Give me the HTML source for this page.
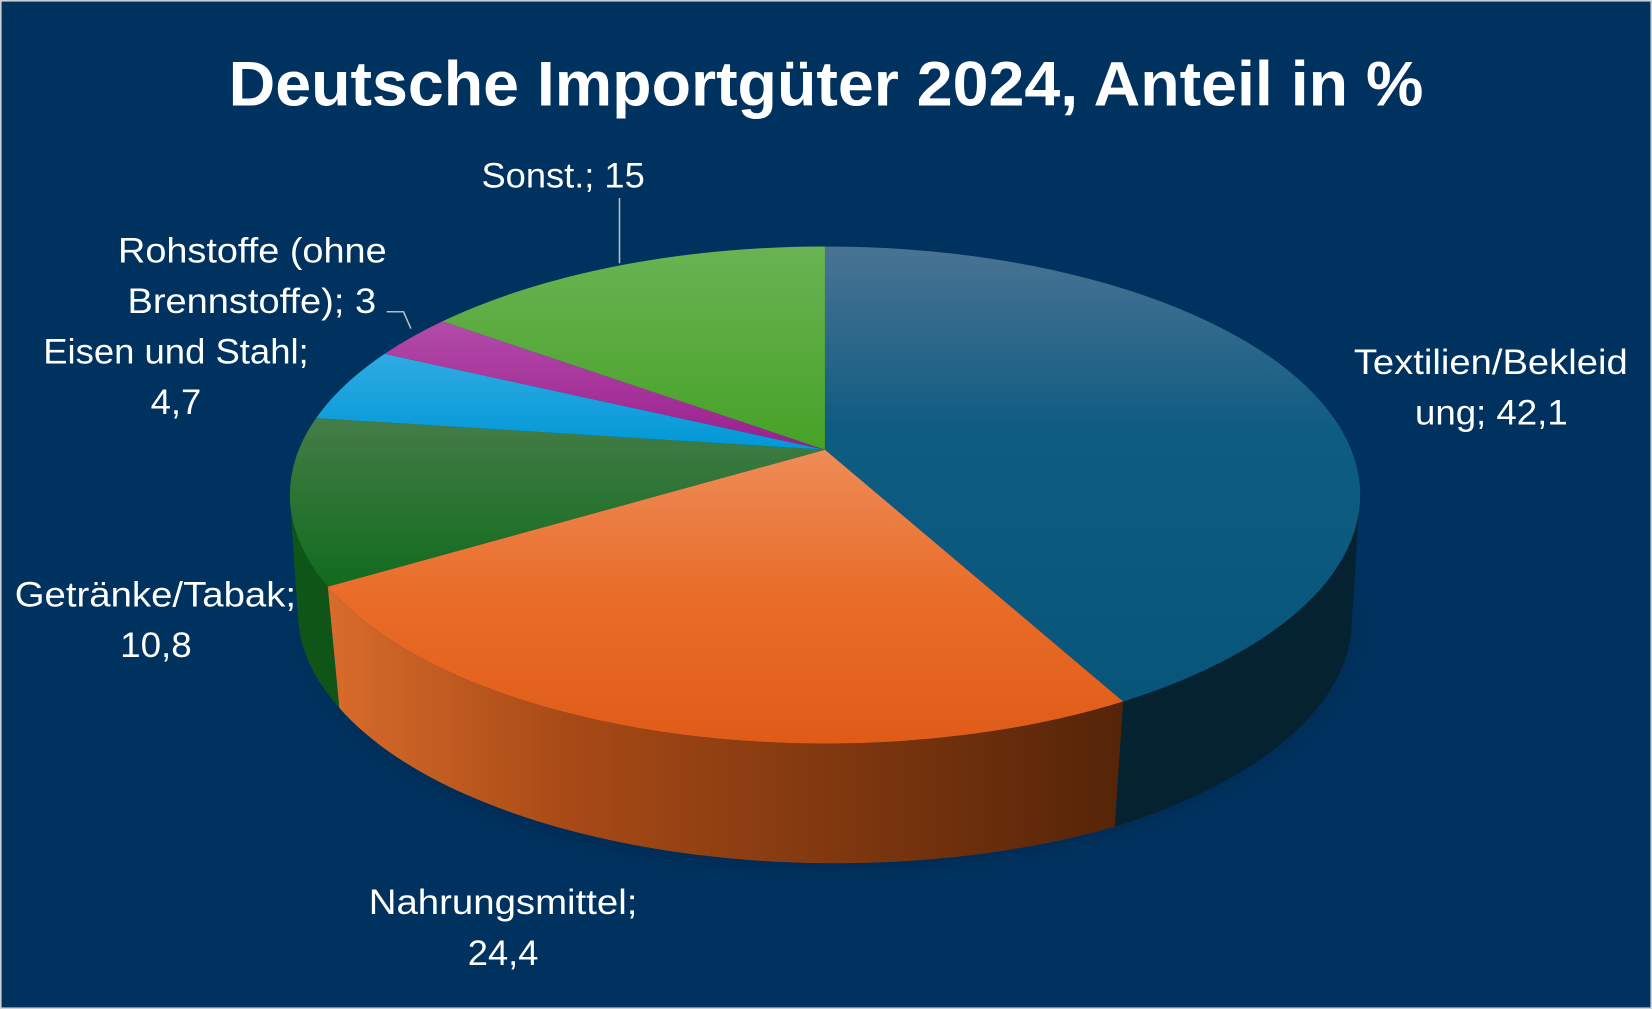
<!DOCTYPE html>
<html><head><meta charset="utf-8"><style>html,body{margin:0;padding:0;background:#00325f}svg{display:block}</style></head>
<body>
<svg width="1652" height="1009" viewBox="0 0 1568 958" preserveAspectRatio="none" xmlns="http://www.w3.org/2000/svg" font-family="Liberation Sans, sans-serif">
<defs>
<linearGradient id="gT" x1="0" y1="0" x2="0" y2="1"><stop offset="0" stop-color="#4a7393"/><stop offset="0.4" stop-color="#0f5c82"/><stop offset="1" stop-color="#08557a"/></linearGradient>
<linearGradient id="gO" x1="0" y1="0" x2="0" y2="1"><stop offset="0" stop-color="#ee8c58"/><stop offset="0.5" stop-color="#e96c28"/><stop offset="1" stop-color="#df5c18"/></linearGradient>
<linearGradient id="gG" x1="0" y1="0" x2="0" y2="1"><stop offset="0" stop-color="#447d48"/><stop offset="1" stop-color="#116b1d"/></linearGradient>
<linearGradient id="gE" x1="0" y1="0" x2="0" y2="1"><stop offset="0" stop-color="#30abe2"/><stop offset="1" stop-color="#0098d7"/></linearGradient>
<linearGradient id="gR" x1="0" y1="0" x2="0" y2="1"><stop offset="0" stop-color="#b34ca9"/><stop offset="1" stop-color="#9a1e8e"/></linearGradient>
<linearGradient id="gS" x1="0" y1="0" x2="0" y2="1"><stop offset="0" stop-color="#6ab354"/><stop offset="1" stop-color="#46a226"/></linearGradient>
<linearGradient id="gOs" x1="0" y1="0" x2="1" y2="0"><stop offset="0" stop-color="#d86c2c"/><stop offset="0.3" stop-color="#a84a16"/><stop offset="1" stop-color="#552408"/></linearGradient>
<radialGradient id="sh" cx="0.5" cy="0.5" r="0.5"><stop offset="0.8" stop-color="#001a35" stop-opacity="0.6"/><stop offset="1" stop-color="#001a35" stop-opacity="0"/></radialGradient>
</defs>
<rect x="0" y="0" width="1568" height="958" fill="#00325f" stroke="#d0d0d0" stroke-width="3"/>
<text x="784" y="100" text-anchor="middle" fill="#fff" font-size="60" font-weight="bold" textLength="1134" lengthAdjust="spacingAndGlyphs">Deutsche Importgüter 2024, Anteil in %</text>
<ellipse cx="788" cy="599" rx="515" ry="240" fill="url(#sh)"/>
<path d="M1291,470 A508,236 0 0 1 1066,666 L1058,785 A508,236 0 0 0 1283,589 Z" fill="#04222f"/>
<path d="M1066,666 A508,236 0 0 1 311,557 L322,672 A508,236 0 0 0 1058,785 Z" fill="url(#gOs)"/>
<path d="M311,557 A508,236 0 0 1 275,470 L283,589 A508,236 0 0 0 322,672 Z" fill="#0f5518"/>
<path d="M783,427 L783,234 A508,236 0 0 1 1066,666 Z" fill="url(#gT)"/>
<path d="M783,427 L1066,666 A508,236 0 0 1 311,557 Z" fill="url(#gO)"/>
<path d="M783,427 L311,557 A508,236 0 0 1 300,397 Z" fill="url(#gG)"/>
<path d="M783,427 L300,397 A508,236 0 0 1 365,336 Z" fill="url(#gE)"/>
<path d="M783,427 L365,336 A508,236 0 0 1 420,305 Z" fill="url(#gR)"/>
<path d="M783,427 L420,305 A508,236 0 0 1 783,234 Z" fill="url(#gS)"/>
<polyline points="588,188 588,250" fill="none" stroke="#bbb" stroke-width="1.5"/>
<polyline points="367,296 383,296 390,312" fill="none" stroke="#bbb" stroke-width="1.5"/>
<g fill="#fff" font-size="33">
<text x="457" y="178" textLength="155" lengthAdjust="spacingAndGlyphs">Sonst.; 15</text>
<text x="112" y="249" textLength="255" lengthAdjust="spacingAndGlyphs">Rohstoffe (ohne</text>
<text x="121" y="297" textLength="236" lengthAdjust="spacingAndGlyphs">Brennstoffe); 3</text>
<text x="41" y="345" textLength="252" lengthAdjust="spacingAndGlyphs">Eisen und Stahl;</text>
<text x="143" y="393" textLength="48" lengthAdjust="spacingAndGlyphs">4,7</text>
<text x="14" y="576" textLength="267" lengthAdjust="spacingAndGlyphs">Getränke/Tabak;</text>
<text x="114" y="624" textLength="68" lengthAdjust="spacingAndGlyphs">10,8</text>
<text x="350" y="868" textLength="255" lengthAdjust="spacingAndGlyphs">Nahrungsmittel;</text>
<text x="444" y="916" textLength="67" lengthAdjust="spacingAndGlyphs">24,4</text>
<text x="1285" y="355" textLength="260" lengthAdjust="spacingAndGlyphs">Textilien/Bekleid</text>
<text x="1343" y="403" textLength="145" lengthAdjust="spacingAndGlyphs">ung; 42,1</text>
</g>
</svg>
</body></html>
